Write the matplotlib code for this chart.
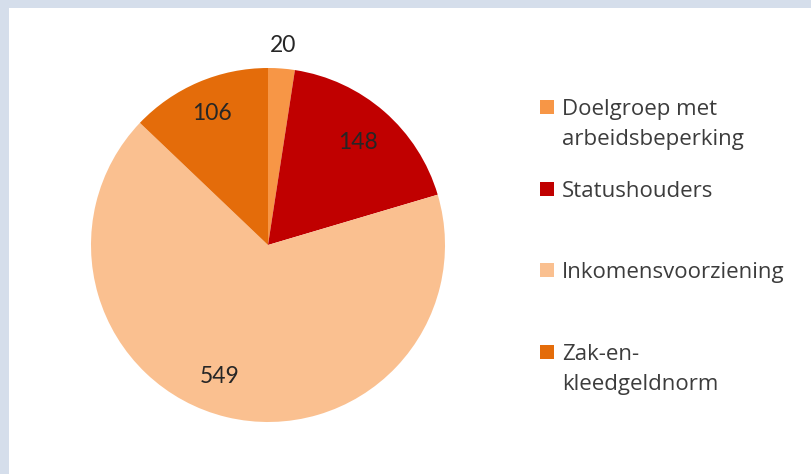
import numpy as np
import matplotlib
matplotlib.use("Agg")
import matplotlib.pyplot as plt
from matplotlib.patches import Rectangle

categories = ["Doelgroep met\narbeidsbeperking", "Statushouders", "Inkomensvoorziening", "Zak-en-\nkleedgeldnorm"]
values = [20, 148, 549, 106]
colors = ["#f79646", "#c00000", "#fac090", "#e46c0a"]
label_dist = [1.13, 0.77, 0.79, 0.81]
label_ang_off = [0, 0, -6.5, 0]

W, H = 811, 474
fig = plt.figure(figsize=(W / 100, H / 100), dpi=100)
fig.patch.set_facecolor("#d5deeb")
# white inner panel
fig.add_artist(Rectangle((9 / W, 0), 1, 1 - 8 / H, transform=fig.transFigure,
                         facecolor="white", edgecolor="none", zorder=0))

cx, cy, r = 268, 245, 177
ax = fig.add_axes([(cx - r) / W, (H - cy - r) / H, 2 * r / W, 2 * r / H])
ax.set_facecolor("none")
wedges, _ = ax.pie(values, colors=colors, startangle=90, counterclock=False,
                   radius=1, wedgeprops=dict(linewidth=0))
ax.set_xlim(-1, 1)
ax.set_ylim(-1, 1)
ax.set_aspect("equal")
ax.axis("off")

num_font = "Lato"
leg_font = "Open Sans"
for w, v, d, o in zip(wedges, values, label_dist, label_ang_off):
    ang = np.deg2rad((w.theta1 + w.theta2) / 2 + o)
    ax.text(d * np.cos(ang), d * np.sin(ang), str(v), ha="center", va="center",
            fontsize=16.5, color="#262626", family=num_font, clip_on=False)

# legend (first-line baselines in pixels, 30 px line pitch)
baselines = [115, 197, 278, 360]
line_pitch = 30
for b, lab, c in zip(baselines, categories, colors):
    fig.add_artist(Rectangle((540 / W, 1 - (b - 1) / H), 14 / W, 14 / H,
                             transform=fig.transFigure, facecolor=c, edgecolor="none"))
    for i, line in enumerate(lab.split("\n")):
        fig.text(562 / W, 1 - (b + i * line_pitch) / H, line, ha="left", va="baseline",
                 fontsize=16, color="#3c3c3c", family=leg_font)

fig.savefig("out.png", dpi=100, facecolor=fig.get_facecolor())
